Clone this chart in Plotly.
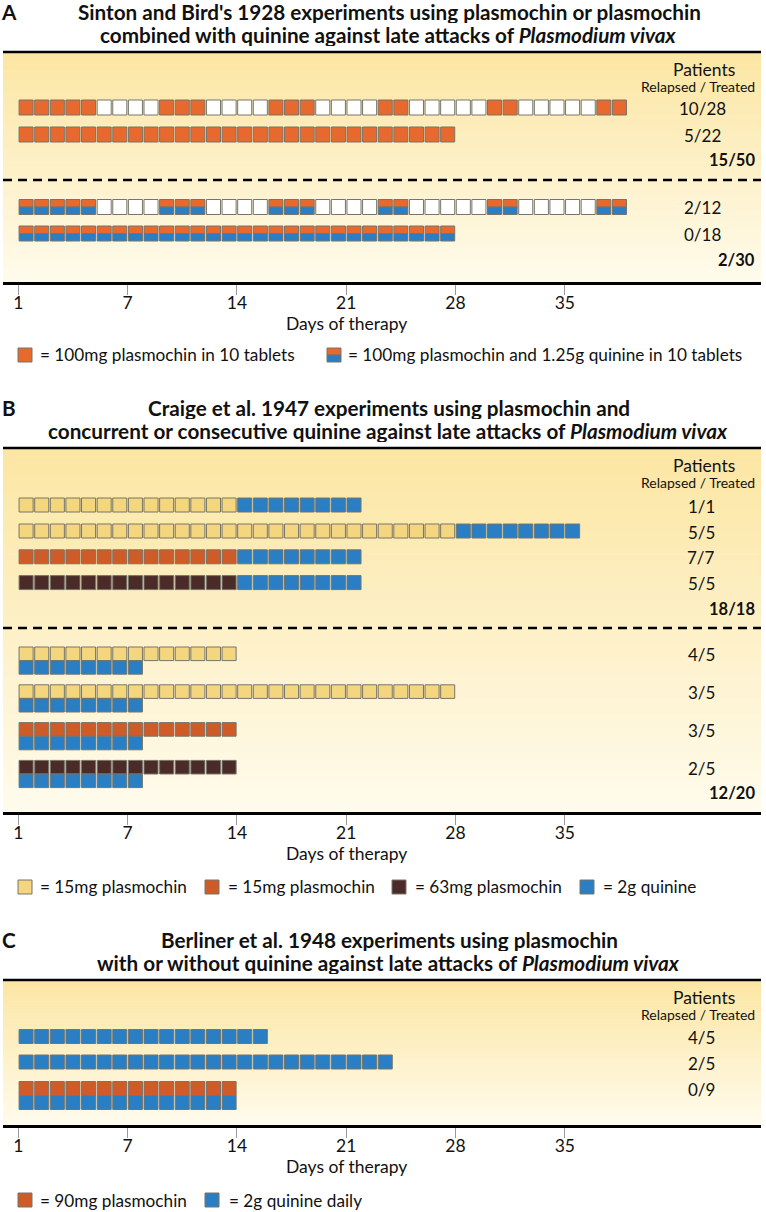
import plotly.graph_objects as go

# ======================= DATA =======================
tick_labels = ["1", "7", "14", "21", "28", "35"]

# Panel A – Sinton & Bird 1928. Segments: (dose code, number of days)
# "P" = 100mg plasmochin, "PQ" = plasmochin + quinine tablets, "-" = no dose
sinton_schedules = [
    [("P", 5), ("-", 4), ("P", 3), ("-", 4), ("P", 3), ("-", 4), ("P", 2), ("-", 5), ("P", 2), ("-", 5), ("P", 2)],
    [("P", 28)],
    [("PQ", 5), ("-", 4), ("PQ", 3), ("-", 4), ("PQ", 3), ("-", 4), ("PQ", 2), ("-", 5), ("PQ", 2), ("-", 5), ("PQ", 2)],
    [("PQ", 28)],
]
sinton_patients = ["10/28", "5/22", "2/12", "0/18"]
sinton_totals = ["15/50", "2/30"]

# Panel B – Craige et al. 1947
# consecutive: plasmochin then quinine ; "Y"=15mg, "O"=15mg, "D"=63mg, "Q"=2g quinine
craige_consecutive = [
    [("Y", 14), ("Q", 8)],
    [("Y", 28), ("Q", 8)],
    [("O", 14), ("Q", 8)],
    [("D", 14), ("Q", 8)],
]
craige_consecutive_patients = ["1/1", "5/5", "7/7", "5/5"]
# concurrent: plasmochin track and quinine track
craige_concurrent_plasmochin = [[("Y", 14)], [("Y", 28)], [("O", 14)], [("D", 14)]]
craige_concurrent_quinine = [[("Q", 8)], [("Q", 8)], [("Q", 8)], [("Q", 8)]]
craige_concurrent_patients = ["4/5", "3/5", "3/5", "2/5"]
craige_totals = ["18/18", "12/20"]

# Panel C – Berliner et al. 1948
berliner_plasmochin_days = [0, 0, 14]   # 90mg plasmochin
berliner_quinine_days = [16, 24, 14]    # 2g quinine daily
berliner_patients = ["4/5", "2/5", "0/9"]

# ======================= STYLE / LAYOUT =======================
W, H = 766, 1212
FONT = "Lato"
TXT = "#111111"
OUTLINE = "#77756a"
COLORS = {"P": "#E8692D", "Q": "#2A7EC3", "Y": "#F4D67F", "O": "#CF5B28",
          "D": "#4B2B27", "-": "#FFFFFF", "M": "#CF5B28"}

DAY_PX = 15.614
DAY0_PX = 18.3
XL_PX, XR_PX = 3, 761
x_range = [(XL_PX - DAY0_PX) / DAY_PX, (XR_PX - DAY0_PX) / DAY_PX]

TITLE_SIZE = 20.7
BODY_SIZE = 17.5
VAL_SIZE = 17
LEG_SIZE = 17.2

panels = [
    dict(top=52, bottom=282, ax="x", ay="y"),
    dict(top=448, bottom=812, ax="x2", ay="y2"),
    dict(top=980, bottom=1125, ax="x3", ay="y3"),
]

fig = go.Figure()
annotations = []
shapes = []


def px(x):
    return x / W


def py(y):
    return 1 - y / H


def expand(segments):
    out = []
    for code, n in segments:
        out += [code] * n
    return out


def add_boxes(p, days, color, top, height):
    if not days:
        return
    fig.add_trace(go.Bar(
        x=[d - 0.5 for d in days], y=[height] * len(days), base=[top] * len(days),
        width=0.9, marker=dict(color=color, line=dict(color=OUTLINE, width=1)),
        xaxis=p["ax"], yaxis=p["ay"], showlegend=False, hoverinfo="skip"))


def add_track(p, codes, center, height):
    top = center - height / 2
    for code in dict.fromkeys(codes):
        days = [i + 1 for i, c in enumerate(codes) if c == code]
        if code == "PQ":
            add_boxes(p, days, COLORS["P"], top, height / 2)
            add_boxes(p, days, COLORS["Q"], top + height / 2, height / 2)
        else:
            add_boxes(p, days, COLORS[code], top, height)


def text(p, x, y, s, size, xanchor="center", bold=False, color=TXT, box_h=None):
    a = dict(
        x=px(x), y=py(p["top"] + y), xref="paper", yref="paper", text=s, showarrow=False,
        xanchor=xanchor, yanchor="middle", valign="middle",
        font=dict(family=FONT, size=size, color=color, weight="bold" if bold else "normal"))
    if box_h:
        a["height"] = box_h
    annotations.append(a)


def hline(p, y, dash="solid"):
    shapes.append(dict(type="line", xref="paper", yref="paper", x0=px(XL_PX), x1=px(XR_PX),
                       y0=py(p["top"] + y), y1=py(p["top"] + y),
                       line=dict(color="black", width=2.5, dash=dash)))


def gradient(p, c0=(252, 230, 163), c1=(255, 251, 236), n=48):
    h = p["bottom"] - p["top"]
    for i in range(n):
        t = i / (n - 1)
        c = tuple(round(a + (b - a) * t) for a, b in zip(c0, c1))
        shapes.append(dict(type="rect", xref="paper", yref="paper", x0=px(XL_PX), x1=px(XR_PX),
                           y0=py(p["top"] + h * i / n), y1=py(p["top"] + min(h, h * (i + 1) / n + 0.6)),
                           layer="below", line=dict(width=0), fillcolor="rgb(%d,%d,%d)" % c))


def rect(p, x0, x1, y0, y1, color):
    shapes.append(dict(type="rect", xref="paper", yref="paper", x0=px(x0), x1=px(x1),
                       y0=py(p["top"] + y0), y1=py(p["top"] + y1),
                       line=dict(color=OUTLINE, width=1), fillcolor=color))


def swatch(p, x, y, color, split=False):
    s = 14
    if split:
        rect(p, x, x + s, y - s / 2, y, COLORS["P"])
        rect(p, x, x + s, y, y + s / 2, COLORS["Q"])
    else:
        rect(p, x, x + s, y - s / 2, y + s / 2, color)


def panel_frame(p, letter, line1, line2):
    gradient(p)
    hline(p, 0)
    text(p, 9, -40, letter, TITLE_SIZE, bold=True, box_h=22)
    text(p, 389, -40, line1, TITLE_SIZE, bold=True, box_h=22)
    text(p, 388, -17.5, line2, TITLE_SIZE, bold=True, box_h=22)
    text(p, 704, 17, "Patients", BODY_SIZE)
    text(p, 698, 34, "Relapsed / Treated", 14)
    h = p["bottom"] - p["top"]
    x_days = DAY0_PX + 21 * DAY_PX
    text(p, x_days, h + 41.5, "Days of therapy", BODY_SIZE)


# ---------------- Panel A ----------------
pA = panels[0]
panel_frame(pA, "A", "Sinton and Bird's 1928 experiments using plasmochin or plasmochin",
            "combined with quinine against late attacks of <i>Plasmodium vivax</i>")
rowsA = [55.5, 82.5, 155, 181.5]
for sched, yc, lab in zip(sinton_schedules, rowsA, sinton_patients):
    add_track(pA, expand(sched), yc, 15)
    text(pA, 702, yc + 1, lab, VAL_SIZE)
hline(pA, 128, dash="9px,6px")
text(pA, 757, 108, sinton_totals[0], 16.5, xanchor="right", bold=True)
text(pA, 757, 208, sinton_totals[1], 16.5, xanchor="right", bold=True)
legA = pA["bottom"] - pA["top"] + 73
swatch(pA, 18, legA, COLORS["P"])
text(pA, 38, legA, "= 100mg plasmochin in 10 tablets", LEG_SIZE, xanchor="left")
swatch(pA, 327, legA, None, split=True)
text(pA, 346, legA, "= 100mg plasmochin and 1.25g quinine in 10 tablets", LEG_SIZE, xanchor="left")

# ---------------- Panel B ----------------
pB = panels[1]
panel_frame(pB, "B", "Craige et al. 1947 experiments using plasmochin and",
            "concurrent or consecutive quinine against late attacks of <i>Plasmodium vivax</i>")
rowsB = [57, 83, 108.8, 134.6]
for sched, yc, lab in zip(craige_consecutive, rowsB, craige_consecutive_patients):
    add_track(pB, expand(sched), yc, 14)
    text(pB, 701, yc + 1, lab, VAL_SIZE)
text(pB, 757, 161, craige_totals[0], 16.5, xanchor="right", bold=True)
hline(pB, 180, dash="9px,6px")
TH = 13.6
for i, (pl, qn, lab) in enumerate(zip(craige_concurrent_plasmochin, craige_concurrent_quinine,
                                      craige_concurrent_patients)):
    top = 199 + i * 37.8
    add_track(pB, expand(pl), top + TH / 2, TH)
    add_track(pB, expand(qn), top + TH * 1.5, TH)
    text(pB, 701, top + TH / 2 + 1, lab, VAL_SIZE)
text(pB, 757, 345, craige_totals[1], 16.5, xanchor="right", bold=True)
legB = pB["bottom"] - pB["top"] + 75
for (code, lbl), (sx, tx) in zip(
        [("Y", "= 15mg plasmochin"), ("O", "= 15mg plasmochin"), ("D", "= 63mg plasmochin"), ("Q", "= 2g quinine")],
        [(18, 38), (205, 226), (392, 413), (580, 601)]):
    swatch(pB, sx, legB, COLORS[code])
    text(pB, tx, legB, lbl, LEG_SIZE, xanchor="left")

# ---------------- Panel C ----------------
pC = panels[2]
panel_frame(pC, "C", "Berliner et al. 1948 experiments using plasmochin",
            "with or without quinine against late attacks of <i>Plasmodium vivax</i>")
rowsC_top = [49.5, 75, 101.5]
for pdays, qdays, top, lab in zip(berliner_plasmochin_days, berliner_quinine_days, rowsC_top, berliner_patients):
    if pdays:
        add_track(pC, ["M"] * pdays, top + 7, 14)
        add_track(pC, ["Q"] * qdays, top + 21, 14)
    else:
        add_track(pC, ["Q"] * qdays, top + 7, 14)
    text(pC, 701, top + 8, lab, VAL_SIZE)
legC = pC["bottom"] - pC["top"] + 75
swatch(pC, 18, legC, COLORS["M"])
text(pC, 38, legC, "= 90mg plasmochin", LEG_SIZE, xanchor="left")
swatch(pC, 205, legC, COLORS["Q"])
text(pC, 227, legC, "= 2g quinine daily", LEG_SIZE, xanchor="left")

# ---------------- axes ----------------
tickvals = [0 if int(t) == 1 else int(t) for t in tick_labels]
layout_axes = {}
for i, p in enumerate(panels):
    sfx = "" if i == 0 else str(i + 1)
    layout_axes["xaxis" + sfx] = dict(
        domain=[px(XL_PX), px(XR_PX)], range=x_range, anchor="y" + sfx,
        showgrid=False, zeroline=False, showline=True, linecolor="black", linewidth=2.5,
        ticks="outside", ticklen=10, tickwidth=1, tickcolor="#9a9a9a",
        ticklabelstandoff=-7,
        tickvals=tickvals, ticktext=tick_labels,
        tickfont=dict(family=FONT, size=BODY_SIZE, color=TXT), fixedrange=True)
    layout_axes["yaxis" + sfx] = dict(
        domain=[py(p["bottom"]), py(p["top"])], range=[p["bottom"] - p["top"], 0],
        anchor="x" + sfx, visible=False, showgrid=False, zeroline=False, fixedrange=True)

fig.update_layout(
    width=W, height=H, margin=dict(l=0, r=0, t=0, b=0),
    paper_bgcolor="white", plot_bgcolor="rgba(0,0,0,0)",
    barmode="overlay", showlegend=False,
    annotations=annotations, shapes=shapes, **layout_axes)

fig.write_html("out.html", config={"displayModeBar": False},
               post_script="document.body.style.margin='0';document.body.style.overflow='hidden';")
